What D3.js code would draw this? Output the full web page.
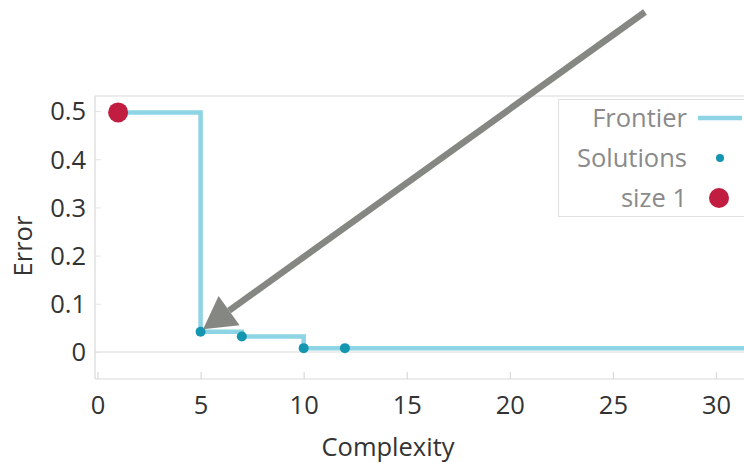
<!DOCTYPE html>
<html>
<head>
<meta charset="utf-8">
<script src="https://cdn.jsdelivr.net/npm/d3@7/dist/d3.min.js"></script>
<style>
  html, body { margin: 0; padding: 0; background: #fff; }
  svg { display: block; }
  svg text { font-family: "Open Sans", "Noto Sans", sans-serif; }
</style>
</head>
<body>
<svg id="chart" width="744" height="463"></svg>
<script>
// Pareto frontier of solutions: error versus expression complexity
const solutionComplexity = [5, 7, 10, 12];
const solutionError = [0.042, 0.032, 0.008, 0.008];
const sizeOneComplexity = [1];
const sizeOneError = [0.497];
const xTicks = [0, 5, 10, 15, 20, 25, 30];
const yTicks = [0, 0.1, 0.2, 0.3, 0.4, 0.5];
const legendLabels = ["Frontier", "Solutions", "size 1"];

const W = 744, H = 463;
const svg = d3.select("#chart");

const x = d3.scaleLinear().domain([0, 30]).range([97.5, 716]);
const y = d3.scaleLinear().domain([0, 0.5]).range([352, 111]);

const plotLeft = 95, plotTop = 96, plotBottom = 379, plotRight = W + 10;
const fontSize = "25.5px";

const frontierColor = "#8dd4e5";
const dotColor = "#1496b1";
const sizeOneColor = "#c01d40";
const frameColor = "#d9d9d9";

// frame: top edge
svg.append("line").attr("x1", plotLeft).attr("x2", plotRight)
  .attr("y1", plotTop).attr("y2", plotTop)
  .attr("stroke", frameColor).attr("stroke-width", 1);

// zero line
svg.append("line").attr("x1", plotLeft).attr("x2", plotRight)
  .attr("y1", y(0)).attr("y2", y(0))
  .attr("stroke", frameColor).attr("stroke-width", 1.2);

// bottom axis
const xAxis = d3.axisBottom(x).tickValues(xTicks).tickSize(0).tickPadding(0)
  .tickFormat(d3.format("d"));
const gx = svg.append("g").attr("transform", `translate(0,${plotBottom})`).call(xAxis)
  .attr("font-family", null).attr("font-size", null);
gx.select(".domain").remove();
gx.append("line").attr("x1", plotLeft).attr("x2", plotRight)
  .attr("y1", 0).attr("y2", 0).attr("stroke", frameColor).attr("stroke-width", 1.2);
gx.selectAll(".tick").append("line").attr("y1", 0).attr("y2", -7)
  .attr("stroke", frameColor).attr("stroke-width", 1.2);
gx.selectAll(".tick text").attr("y", 35).attr("dy", 0)
  .attr("fill", "#333").style("font-size", fontSize);

// left axis
const yAxis = d3.axisLeft(y).tickValues(yTicks).tickSize(0).tickPadding(0)
  .tickFormat(d => d === 0 ? "0" : d3.format(".1f")(d));
const gy = svg.append("g").attr("transform", `translate(${plotLeft},0)`).call(yAxis)
  .attr("font-family", null).attr("font-size", null);
gy.select(".domain").remove();
gy.append("line").attr("x1", 0).attr("x2", 0)
  .attr("y1", plotTop).attr("y2", plotBottom).attr("stroke", frameColor).attr("stroke-width", 1.2);
gy.selectAll(".tick").append("line").attr("x1", 0).attr("x2", 6)
  .attr("stroke", "#e6e6e6").attr("stroke-width", 1);
gy.selectAll(".tick text").attr("x", -9).attr("dy", "0.35em")
  .attr("fill", "#333").style("font-size", fontSize);

// axis titles
svg.append("text").attr("x", 388).attr("y", 456).attr("text-anchor", "middle")
  .attr("fill", "#333").style("font-size", fontSize).text("Complexity");
svg.append("text").attr("transform", "translate(32,246) rotate(-90)")
  .attr("text-anchor", "middle").attr("fill", "#333").style("font-size", fontSize).text("Error");

// frontier (step line through the size-1 point and all solutions, then to the right edge)
const frontierPts = sizeOneComplexity.map((c, i) => [c, sizeOneError[i]])
  .concat(solutionComplexity.map((c, i) => [c, solutionError[i]]));
frontierPts.push([x.invert(plotRight), solutionError[solutionError.length - 1]]);
const stepLine = d3.line().x(d => x(d[0])).y(d => y(d[1])).curve(d3.curveStepAfter);
svg.append("path").datum(frontierPts).attr("d", stepLine)
  .attr("fill", "none").attr("stroke", frontierColor).attr("stroke-width", 4.5);

// solution points
svg.selectAll("circle.sol").data(solutionComplexity).join("circle").attr("class", "sol")
  .attr("cx", d => x(d)).attr("cy", (d, i) => y(solutionError[i])).attr("r", 5)
  .attr("fill", dotColor);

// size-1 point
svg.selectAll("circle.one").data(sizeOneComplexity).join("circle").attr("class", "one")
  .attr("cx", d => x(d)).attr("cy", (d, i) => y(sizeOneError[i])).attr("r", 10)
  .attr("fill", sizeOneColor);

// legend
const lg = svg.append("g");
lg.append("rect").attr("x", 558.5).attr("y", 99.5).attr("width", 200).attr("height", 117)
  .attr("fill", "#fff").attr("stroke", "#e0e0e0").attr("stroke-width", 1);
const rowY = [118, 158, 198];
legendLabels.forEach((lab, i) => {
  lg.append("text").attr("x", 687).attr("y", rowY[i]).attr("dy", "0.35em")
    .attr("text-anchor", "end").attr("fill", "#8a8a8a").style("font-size", fontSize).text(lab);
});
lg.append("line").attr("x1", 698).attr("x2", 742).attr("y1", rowY[0]).attr("y2", rowY[0])
  .attr("stroke", frontierColor).attr("stroke-width", 4.5);
lg.append("circle").attr("cx", 720).attr("cy", rowY[1]).attr("r", 4).attr("fill", dotColor);
lg.append("circle").attr("cx", 719).attr("cy", rowY[2]).attr("r", 10).attr("fill", sizeOneColor);

// annotation arrow pointing at the simplest accurate solution
const tipX = x(solutionComplexity[0]) + 2.5, tipY = y(solutionError[0]) - 2.5;
const tailX = 645, tailY = 12;
const ang = Math.atan2(tipY - tailY, tipX - tailX);
const headLen = 32, headHalf = 18;
const bx = tipX - headLen * Math.cos(ang), by = tipY - headLen * Math.sin(ang);
const px = -Math.sin(ang), py = Math.cos(ang);
svg.append("line").attr("x1", tailX).attr("y1", tailY).attr("x2", bx).attr("y2", by)
  .attr("stroke", "#858882").attr("stroke-width", 6.5);
svg.append("path")
  .attr("d", `M${tipX},${tipY}L${bx + px * headHalf},${by + py * headHalf}L${bx - px * headHalf},${by - py * headHalf}Z`)
  .attr("fill", "#858882");
</script>
</body>
</html>
